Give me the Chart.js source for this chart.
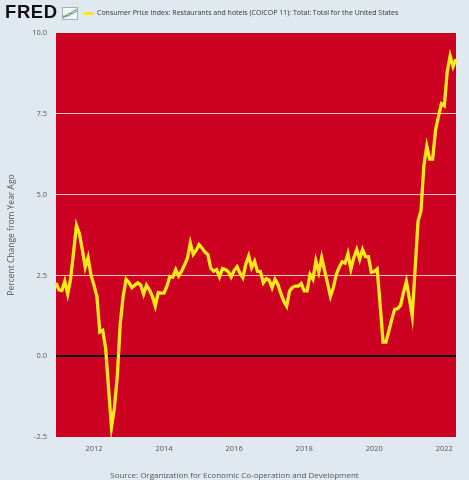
<!DOCTYPE html>
<html>
<head>
<meta charset="utf-8">
<script src="https://cdn.jsdelivr.net/npm/chart.js@4.4.1/dist/chart.umd.min.js"></script>
<style>
  html, body { margin: 0; padding: 0; background: #e1e9f0; }
  #wrap { position: relative; width: 469px; height: 480px; background: #e1e9f0; overflow: hidden; }
  #chart { position: absolute; left: 0; top: 0; }
  .logo { position: absolute; left: 5px; top: 1px; font: 900 18.5px "Liberation Sans", Arial, sans-serif; color: #111; letter-spacing: 0.6px; }
  .icon { position: absolute; left: 62px; top: 7px; }
  .legline { position: absolute; left: 84px; top: 12px; width: 10px; height: 3px; background: #ffe81a; }
  .legtext { position: absolute; left: 97px; top: 8px; font: 7px "Open Sans", sans-serif; color: #333; white-space: nowrap; }
  .source { position: absolute; left: 0; width: 469px; top: 469px; text-align: center; font: 8px "Open Sans", sans-serif; color: #555; }
</style>
</head>
<body>
<div id="wrap">
  <canvas id="chart" width="469" height="480"></canvas>
  <div class="logo">FRED</div>
  <svg class="icon" width="16" height="13" viewBox="0 0 16 13">
    <rect x="0.5" y="0.5" width="15" height="12" fill="#f4f6f8" stroke="#9fb0c0" stroke-width="1"/>
    <polyline points="1,11 4,8 7,9 10,5 15,2" fill="none" stroke="#7fb55a" stroke-width="1.2"/>
    <polyline points="1,9 4,10 7,6 10,7 15,4" fill="none" stroke="#5a86b5" stroke-width="1"/>
  </svg>
  <div class="legline"></div>
  <div class="legtext">Consumer Price Index: Restaurants and hotels (COICOP 11): Total: Total for the United States</div>
  <div class="source">Source: Organization for Economic Co-operation and Development</div>
</div>
<script>
// monthly percent change from year ago, Dec 2010 .. May 2022
const v2010 = [2.27];
const v2011 = [2.05, 2.03, 2.32, 1.92, 2.4, 3.2, 4.05, 3.8, 3.3, 2.75, 3.05, 2.5];
const v2012 = [2.2, 1.85, 0.75, 0.8, 0.25, -1.0, -2.2, -1.6, -0.6, 1.0, 1.85, 2.38];
const v2013 = [2.28, 2.12, 2.2, 2.27, 2.2, 1.92, 2.2, 2.05, 1.85, 1.55, 1.97, 1.95];
const v2014 = [1.96, 2.17, 2.47, 2.45, 2.68, 2.48, 2.63, 2.82, 3.03, 3.5, 3.15, 3.28];
const v2015 = [3.45, 3.35, 3.22, 3.15, 2.72, 2.63, 2.68, 2.45, 2.71, 2.68, 2.62, 2.45];
const v2016 = [2.65, 2.77, 2.57, 2.43, 2.85, 3.1, 2.74, 2.94, 2.63, 2.62, 2.27, 2.4];
const v2017 = [2.35, 2.12, 2.38, 2.22, 1.95, 1.7, 1.55, 2.02, 2.13, 2.17, 2.17, 2.25];
const v2018 = [2.02, 2.02, 2.53, 2.38, 2.95, 2.6, 3.05, 2.65, 2.25, 1.85, 2.12, 2.53];
const v2019 = [2.75, 2.92, 2.88, 3.18, 2.69, 3.05, 3.3, 2.99, 3.3, 3.08, 3.08, 2.6];
const v2020 = [2.62, 2.7, 1.6, 0.44, 0.44, 0.78, 1.14, 1.45, 1.47, 1.57, 1.97, 2.32];
const v2021 = [1.8, 1.24, 2.7, 4.18, 4.49, 5.9, 6.5, 6.1, 6.1, 7.0, 7.42, 7.81];
const v2022 = [7.75, 8.81, 9.29, 8.96, 9.19];

const tickYears = ['2012', '2014', '2016', '2018', '2020', '2022'];
const yTicks = [-2.5, 0, 2.5, 5, 7.5, 10];

const values = [].concat(v2010, v2011, v2012, v2013, v2014, v2015, v2016,
    v2017, v2018, v2019, v2020, v2021, v2022);

// month labels "YYYY-MM" starting Dec 2010
const months = [];
for (let i = 0; i < values.length; i++) {
    const m = 11 + i;
    const y = 2010 + Math.floor(m / 12);
    const mm = (m % 12) + 1;
    months.push(y + '-' + String(mm).padStart(2, '0'));
}

const plotBackground = {
    id: 'plotBackground',
    beforeDraw(chart) {
        const { ctx, chartArea: a } = chart;
        ctx.save();
        ctx.fillStyle = '#cc0020';
        ctx.fillRect(a.left, a.top, a.right - a.left, a.bottom - a.top);
        ctx.restore();
    }
};

const ctx = document.getElementById('chart').getContext('2d');
new Chart(ctx, {
    type: 'line',
    data: {
        labels: months,
        datasets: [{
            data: values,
            borderColor: '#ffe81a',
            borderWidth: 3.3,
            pointRadius: 0,
            tension: 0,
            fill: false
        }]
    },
    options: {
        responsive: false,
        animation: false,
        devicePixelRatio: 1,
        layout: { padding: { left: 0, right: 13, top: 33, bottom: 0 } },
        plugins: {
            legend: { display: false },
            tooltip: { enabled: false }
        },
        scales: {
            x: {
                type: 'category',
                offset: false,
                border: { display: false },
                grid: { display: false, drawTicks: false },
                ticks: {
                    autoSkip: false,
                    maxRotation: 0,
                    padding: 7,
                    color: '#555',
                    font: { family: 'Open Sans', size: 7.5 },
                    callback: function (val, idx) {
                        const lab = months[idx];
                        const yr = lab.slice(0, 4);
                        return (lab.endsWith('-01') && tickYears.includes(yr)) ? yr : '';
                    }
                },
                afterFit: function (scale) { scale.height = 43; }
            },
            y: {
                min: -2.5,
                max: 10,
                border: { display: false },
                afterBuildTicks: function (scale) {
                    scale.ticks = yTicks.map(v => ({ value: v }));
                },
                grid: {
                    drawTicks: false,
                    color: function (c) {
                        if (c.tick.value === 0) return '#000';
                        if (c.tick.value === 10 || c.tick.value === -2.5) return 'rgba(0,0,0,0)';
                        return 'rgba(255,255,255,0.75)';
                    },
                    lineWidth: function (c) { return c.tick.value === 0 ? 2 : 1; }
                },
                ticks: {
                    padding: 9,
                    color: '#555',
                    font: { family: 'Open Sans', size: 7.5 },
                    callback: function (v) { return Number(v).toFixed(1); }
                },
                title: {
                    display: true,
                    text: 'Percent Change from Year Ago',
                    color: '#555',
                    font: { family: 'Open Sans', size: 8.5 },
                    padding: { top: 6, bottom: 0 }
                },
                afterFit: function (scale) { scale.width = 56; }
            }
        }
    },
    plugins: [plotBackground]
});
</script>
</body>
</html>
